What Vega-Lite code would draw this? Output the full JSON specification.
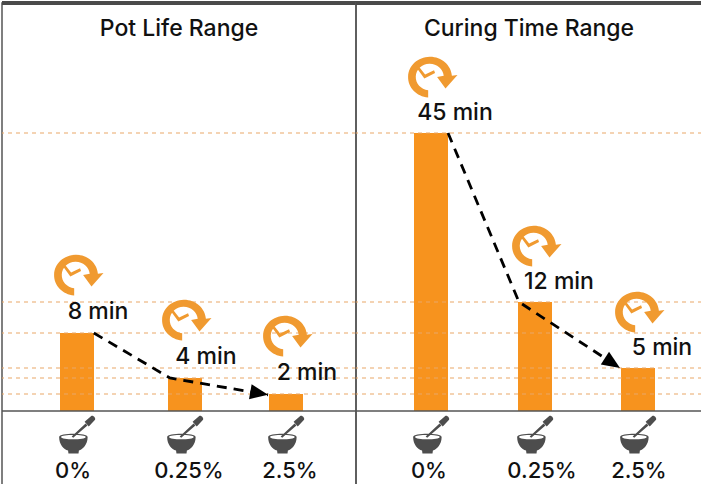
{"$schema":"https://vega.github.io/schema/vega-lite/v6.json","padding":{"left":-1,"top":0,"right":0,"bottom":2},"background":"white","spacing":0,"bounds":"flush","config":{"axis":{"disable":true},"view":{"stroke":"#555555","strokeWidth":1.5},"title":{"font":"Inter","fontSize":23,"fontWeight":500,"color":"#111111","anchor":"middle","offset":-40,"baseline":"alphabetic"},"concat":{"spacing":0}},"datasets":{"pot":[{"dose":0,"conc":"0%","label_dose":-0.009,"minutes":8,"label":"8 min"},{"dose":0.25,"conc":"0.25%","label_dose":0.339,"minutes":4,"label":"4 min"},{"dose":2.5,"conc":"2.5%","label_dose":2.589,"minutes":2,"label":"2 min"}],"cure":[{"dose":0,"conc":"0%","label_dose":-0.005,"minutes":45,"label":"45 min"},{"dose":0.25,"conc":"0.25%","label_dose":0.403,"minutes":12,"label":"12 min"},{"dose":2.5,"conc":"2.5%","label_dose":2.522,"minutes":5,"label":"5 min"}],"levels":[{"minutes":2},{"minutes":4},{"minutes":5},{"minutes":8},{"minutes":12},{"minutes":45}],"potTrend":[{"dose":0.039,"minutes":8},{"dose":0.215,"minutes":4},{"dose":2.1,"minutes":1.9}],"cureTrend":[{"dose":0.041,"minutes":45},{"dose":0.2115,"minutes":12},{"dose":2.107,"minutes":5}],"potTip":[{"dose":2.1,"minutes":1.9}],"cureTip":[{"dose":2.107,"minutes":5}]},"hconcat":[{"width":354,"height":482,"title":{"text":"Pot Life Range"},"encoding":{"x":{"field":"dose","type":"quantitative","scale":{"domain":[0,0.25,2.5],"range":[75,183,284],"zero":false,"nice":false,"padding":0}},"y":{"field":"minutes","type":"quantitative","scale":{"domain":[-12,0,2,4,5,8,12,45,72],"range":[482,408,391,375,365,330,299,130,0],"zero":false,"nice":false}}},"layer":[{"data":{"name":"pot"},"mark":{"type":"bar","size":34,"color":"#f7931e"},"encoding":{"y2":{"datum":0}}},{"data":{"name":"levels"},"mark":{"type":"rule","color":"#e9a868","strokeDash":[4,4],"strokeWidth":1.2},"encoding":{"x":null}},{"mark":{"type":"rule","color":"#555555","strokeWidth":1.5},"data":{"values":[{"minutes":0}]},"encoding":{"x":null}},{"mark":{"type":"rule","color":"#4a4a4a","strokeWidth":4},"data":{"values":[{"minutes":72}]},"encoding":{"x":null}},{"data":{"name":"potTrend"},"mark":{"type":"line","color":"#000000","strokeWidth":2.8,"strokeDash":[10,7]}},{"data":{"name":"potTip"},"mark":{"type":"point","filled":true,"opacity":1,"color":"#000000","size":1296,"angle":10,"shape":"M0 0L-1 -.42L-1 .42Z"}},{"data":{"name":"pot"},"mark":{"type":"point","filled":true,"opacity":1,"color":"#f09a30","size":2600,"xOffset":1,"yOffset":-58,"shape":"M-.15 .8A.86 .8 0 1 1 .78 -.05L1 -.08L.53 .45L.2 0L.46 -.05A.55 .52 0 1 0 -.15 .52ZM-.62 -.38L-.54 -.44L-.27 -.1L.08 -.26L.12 -.16L-.3 .06Z"}},{"data":{"name":"pot"},"mark":{"type":"text","font":"Inter","fontWeight":500,"fontSize":23,"color":"#111111","dx":21,"dy":-21,"baseline":"middle"},"encoding":{"text":{"field":"label"}}},{"data":{"name":"pot"},"mark":{"type":"point","filled":true,"opacity":1,"color":"#4d4d4d","size":1444,"yOffset":24,"shape":"M-.94 .1C-.94 -.12 .56 -.12 .56 .1C.56 .5 .3 .75 .1 .82L.08 .97L-.45 .97L-.47 .82C-.7 .75 -.94 .5 -.94 .1ZM-.84 .1C-.84 .26 .46 .26 .46 .1C.46 -.04 -.84 -.04 -.84 .1ZM-.28 .08L.45 -.6L.55 -.5L-.2 .15ZM.4 -.7L.75 -1C.85 -1.05 1 -.9 .95 -.8L.62 -.45Z"},"encoding":{"y":{"datum":0}}},{"data":{"name":"pot"},"mark":{"type":"text","font":"Inter","fontWeight":500,"fontSize":22,"color":"#111111","dy":60,"baseline":"middle"},"encoding":{"x":{"field":"label_dose","type":"quantitative"},"y":{"datum":0},"text":{"field":"conc"}}}]},{"width":346,"height":482,"title":{"text":"Curing Time Range"},"encoding":{"x":{"field":"dose","type":"quantitative","scale":{"domain":[0,0.25,2.5],"range":[75,179,282],"zero":false,"nice":false,"padding":0}},"y":{"field":"minutes","type":"quantitative","scale":{"domain":[-12,0,2,4,5,8,12,45,72],"range":[482,408,391,375,365,330,299,130,0],"zero":false,"nice":false}}},"layer":[{"data":{"name":"cure"},"mark":{"type":"bar","size":34,"color":"#f7931e"},"encoding":{"y2":{"datum":0}}},{"data":{"name":"levels"},"mark":{"type":"rule","color":"#e9a868","strokeDash":[4,4],"strokeWidth":1.2},"encoding":{"x":null}},{"mark":{"type":"rule","color":"#555555","strokeWidth":1.5},"data":{"values":[{"minutes":0}]},"encoding":{"x":null}},{"mark":{"type":"rule","color":"#4a4a4a","strokeWidth":4},"data":{"values":[{"minutes":72}]},"encoding":{"x":null}},{"data":{"name":"cureTrend"},"mark":{"type":"line","color":"#000000","strokeWidth":2.8,"strokeDash":[10,7]}},{"data":{"name":"cureTip"},"mark":{"type":"point","filled":true,"opacity":1,"color":"#000000","size":1296,"angle":33,"shape":"M0 0L-1 -.42L-1 .42Z"}},{"data":{"name":"cure"},"mark":{"type":"point","filled":true,"opacity":1,"color":"#f09a30","size":2600,"xOffset":1,"yOffset":-56,"shape":"M-.15 .8A.86 .8 0 1 1 .78 -.05L1 -.08L.53 .45L.2 0L.46 -.05A.55 .52 0 1 0 -.15 .52ZM-.62 -.38L-.54 -.44L-.27 -.1L.08 -.26L.12 -.16L-.3 .06Z"}},{"data":{"name":"cure"},"mark":{"type":"text","font":"Inter","fontWeight":500,"fontSize":23,"color":"#111111","dx":24,"dy":-20,"baseline":"middle"},"encoding":{"text":{"field":"label"}}},{"data":{"name":"cure"},"mark":{"type":"point","filled":true,"opacity":1,"color":"#4d4d4d","size":1444,"yOffset":24,"shape":"M-.94 .1C-.94 -.12 .56 -.12 .56 .1C.56 .5 .3 .75 .1 .82L.08 .97L-.45 .97L-.47 .82C-.7 .75 -.94 .5 -.94 .1ZM-.84 .1C-.84 .26 .46 .26 .46 .1C.46 -.04 -.84 -.04 -.84 .1ZM-.28 .08L.45 -.6L.55 -.5L-.2 .15ZM.4 -.7L.75 -1C.85 -1.05 1 -.9 .95 -.8L.62 -.45Z"},"encoding":{"y":{"datum":0}}},{"data":{"name":"cure"},"mark":{"type":"text","font":"Inter","fontWeight":500,"fontSize":22,"color":"#111111","dy":60,"baseline":"middle"},"encoding":{"x":{"field":"label_dose","type":"quantitative"},"y":{"datum":0},"text":{"field":"conc"}}}]}]}
